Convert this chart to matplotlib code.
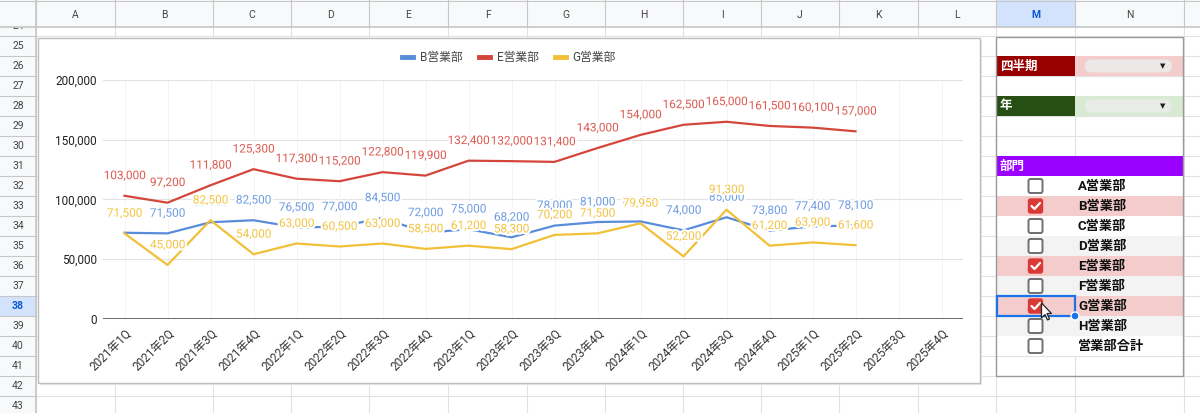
import matplotlib
matplotlib.use("Agg")
import matplotlib.pyplot as plt
import matplotlib.ticker as ticker
import matplotlib.patheffects as pe
from matplotlib.lines import Line2D
from matplotlib.patches import Rectangle, FancyBboxPatch, Circle, Polygon
from matplotlib.transforms import ScaledTranslation

plt.rcParams['font.family'] = ['Roboto', 'Noto Sans CJK JP', 'DejaVu Sans']

# chart data
quarters = ['2021年1Q', '2021年2Q', '2021年3Q', '2021年4Q',
            '2022年1Q', '2022年2Q', '2022年3Q', '2022年4Q',
            '2023年1Q', '2023年2Q', '2023年3Q', '2023年4Q',
            '2024年1Q', '2024年2Q', '2024年3Q', '2024年4Q',
            '2025年1Q', '2025年2Q', '2025年3Q', '2025年4Q']
b_sales = [72000, 71500, 80800, 82500, 76500, 77000, 84500, 72000, 75000,
           68200, 78000, 81000, 81500, 74000, 85000, 73800, 77400, 78100]
e_sales = [103000, 97200, 111800, 125300, 117300, 115200, 122800, 119900,
           132400, 132000, 131400, 143000, 154000, 162500, 165000, 161500,
           160100, 157000]
g_sales = [71500, 45000, 82500, 54000, 63000, 60500, 63000, 58500, 61200,
           58300, 70200, 71500, 79950, 52200, 91300, 61200, 63900, 61600]
series_names = ['B営業部', 'E営業部', 'G営業部']

# control panel data
departments = ['A営業部', 'B営業部', 'C営業部', 'D営業部', 'E営業部',
               'F営業部', 'G営業部', 'H営業部', '営業部合計']
checked = [False, True, False, False, True, False, True, False, False]

LINE_COLORS = ['#5a8cdc', '#d4463c', '#f2c037']
LABEL_COLORS = ['#6e9be2', '#dc5a51', '#f3c441']

W, H = 1200, 413
COL_EDGES = [36, 115, 213, 291, 369, 448, 527, 605, 683, 761, 839, 918, 996, 1075, 1184, 1260]
COL_NAMES = ['A', 'B', 'C', 'D', 'E', 'F', 'G', 'H', 'I', 'J', 'K', 'L', 'M', 'N', '']
HEADER_H = 27
ROW_H = 20
FIRST_ROW = 24
LAST_ROW = 43


def row_top(n):
    return 196 + (n - 33) * ROW_H


def draw_sheet(bg):
    # cell grid
    for x in COL_EDGES:
        bg.plot([x, x], [HEADER_H, H], color='#e2e2e2', lw=0.8, zorder=1)
    for n in range(FIRST_ROW, LAST_ROW + 2):
        y = row_top(n)
        bg.plot([0, W], [y, y], color='#e2e2e2', lw=0.8, zorder=1)

    # row header
    bg.add_patch(Rectangle((0, HEADER_H), COL_EDGES[0], H, fc='#f8f9fa', ec='none', zorder=2))
    for n in range(FIRST_ROW, LAST_ROW + 1):
        y = row_top(n)
        sel = n == 38
        if sel:
            bg.add_patch(Rectangle((0, y), COL_EDGES[0], ROW_H, fc='#d3e3fd', ec='none', zorder=2))
        bg.plot([0, COL_EDGES[0]], [y, y], color='#c7c7c7', lw=0.8, zorder=3)
        bg.text(18, y + ROW_H / 2, str(n), ha='center', va='center', fontsize=7.5,
                color='#0b57d0' if sel else '#444444', fontweight='bold' if sel else 'normal',
                zorder=3)
    bg.plot([COL_EDGES[0], COL_EDGES[0]], [0, H], color='#c4c7c5', lw=1.2, zorder=6)

    # column header
    bg.add_patch(Rectangle((0, 0), W, HEADER_H, fc='#f8f9fa', ec='none', zorder=5))
    for i, name in enumerate(COL_NAMES):
        x0, x1 = COL_EDGES[i], COL_EDGES[i + 1]
        sel = name == 'M'
        if sel:
            bg.add_patch(Rectangle((x0, 0), x1 - x0, HEADER_H, fc='#d3e3fd', ec='none', zorder=5))
        if name:
            bg.text((x0 + x1) / 2, HEADER_H / 2 + 1, name, ha='center', va='center',
                    fontsize=7.5, color='#0b57d0' if sel else '#444444',
                    fontweight='bold' if sel else 'normal', zorder=6)
        bg.plot([x0, x0], [0, HEADER_H], color='#c7c7c7', lw=0.8, zorder=6)
    bg.plot([0, W], [HEADER_H, HEADER_H], color='#c4c7c5', lw=1.2, zorder=6)
    bg.plot([0, W], [0.5, 0.5], color='#c7c7c7', lw=0.8, zorder=6)


def draw_panel(bg):
    m0, m1, n1 = COL_EDGES[12], COL_EDGES[13], COL_EDGES[14] - 1

    # period / year selectors
    selectors = [(26, '四半期', '#990000', '#f4cccc'), (28, '年', '#274e13', '#d9ead3')]
    for row, label, dark, light in selectors:
        y = row_top(row)
        bg.add_patch(Rectangle((m0, y), m1 - m0, ROW_H, fc=dark, ec='none', zorder=3))
        bg.add_patch(Rectangle((m1, y), n1 - m1, ROW_H, fc=light, ec='none', zorder=3))
        bg.text(m0 + 4, y + ROW_H / 2, label, ha='left', va='center', fontsize=9,
                fontweight='bold', color='white', zorder=4)
        bg.add_patch(FancyBboxPatch((m1 + 10, y + 3.5), n1 - m1 - 21, ROW_H - 7,
                                    boxstyle='round,pad=0,rounding_size=6.5',
                                    fc='#ececec', ec='none', alpha=0.85, zorder=4))
        bg.text(n1 - 20, y + ROW_H / 2, '▼', ha='center', va='center', fontsize=5,
                color='#222222', family=['DejaVu Sans'], zorder=5)

    # department header
    y = row_top(31)
    bg.add_patch(Rectangle((m0, y), n1 - m0, ROW_H, fc='#9900ff', ec='none', zorder=3))
    bg.text(m0 + 4, y + ROW_H / 2, '部門', ha='left', va='center', fontsize=9,
            fontweight='bold', color='white', zorder=4)

    # department check boxes
    cx = (m0 + m1) / 2
    for i, (dep, on) in enumerate(zip(departments, checked)):
        y = row_top(32 + i)
        if on:
            fill = '#f4cccc'
        elif i % 2 == 1:
            fill = '#f3f3f3'
        else:
            fill = 'white'
        bg.add_patch(Rectangle((m0, y), n1 - m0, ROW_H, fc=fill, ec='none', zorder=3))
        s = 14
        if on:
            bg.add_patch(FancyBboxPatch((cx - s / 2, y + 3), s, s,
                                        boxstyle='round,pad=0,rounding_size=2',
                                        fc='#d93a36', ec='#d93a36', lw=1, zorder=4))
            bg.plot([cx - 4, cx - 1, cx + 4.5], [y + 10, y + 13, y + 7], color='white',
                    lw=1.6, solid_capstyle='round', zorder=5)
        else:
            bg.add_patch(FancyBboxPatch((cx - s / 2, y + 3), s, s,
                                        boxstyle='round,pad=0,rounding_size=2',
                                        fc='white', ec='#6f6f6f', lw=1.4, zorder=4))
        bg.text(m1 + 3, y + ROW_H / 2 + 0.5, dep, ha='left', va='center', fontsize=9.5,
                fontweight='bold', color='#111111', zorder=4)

    # panel frame
    bg.add_patch(Rectangle((m0, 37), n1 - m0, row_top(42) - 37, fc='none', ec='#9a9a9a',
                           lw=1, zorder=6))

    # selected cell M38
    y = row_top(38)
    bg.add_patch(Rectangle((m0 + 1, y), m1 - m0 - 1, ROW_H, fc='none', ec='#1a73e8',
                           lw=1.6, zorder=7))
    bg.add_patch(Circle((m1, y + ROW_H), 4, fc='#1a73e8', ec='white', lw=1, zorder=8))

    # mouse pointer
    tip = (cx + 6, y + 7)
    pts = [(0, 0), (0, 15), (3.5, 11.5), (6, 17), (8, 16), (5.5, 10.5), (10, 10.5)]
    bg.add_patch(Polygon([(tip[0] + px, tip[1] + py) for px, py in pts], closed=True,
                         fc='white', ec='#222222', lw=0.9, zorder=9))


def plot_chart(fig):
    left, right, top, bottom = 103, 963, 80, 318.7
    ax = fig.add_axes([left / W, 1 - bottom / H, (right - left) / W, (bottom - top) / H],
                      zorder=1)
    ax.patch.set_alpha(0)

    all_series = [b_sales, e_sales, g_sales]
    for vals, col, name in zip(all_series, LINE_COLORS, series_names):
        ax.plot(range(len(vals)), vals, color=col, lw=1.6, label=name,
                solid_joinstyle='round', zorder=3)

    for vals, col in zip(all_series, LABEL_COLORS):
        for i, v in enumerate(vals):
            ax.annotate(f'{v:,}', (i, v), xytext=(0, 14.5), textcoords='offset points',
                        ha='center', va='center', fontsize=8.5, color=col, zorder=4,
                        annotation_clip=False,
                        path_effects=[pe.withStroke(linewidth=3, foreground='white')])

    ax.set_xlim(-0.5, len(quarters) - 0.5)
    ax.set_ylim(0, 200000)
    ax.set_yticks(range(0, 200001, 50000))
    ax.yaxis.set_major_formatter(ticker.StrMethodFormatter('{x:,.0f}'))
    ax.grid(axis='y', color='#e3e3e3', lw=0.8, zorder=0)
    ax.vlines(range(len(quarters)), 0, 200000, color='#f4f4f4', lw=0.7, zorder=0)
    ax.axhline(0, color='#5f5f5f', lw=1.3, zorder=2)
    for s in ax.spines.values():
        s.set_visible(False)
    ax.tick_params(length=0)
    ax.tick_params(axis='y', pad=4.5, labelsize=8.5, labelcolor='#222222')

    ax.set_xticks(range(len(quarters)))
    ax.set_xticklabels(quarters, rotation=45, ha='right', va='center',
                       rotation_mode='anchor', fontsize=8.5, color='#333333')
    ax.tick_params(axis='x', pad=9)
    shift = ScaledTranslation(5 / 100, 0, fig.dpi_scale_trans)
    for lbl in ax.get_xticklabels():
        lbl.set_transform(lbl.get_transform() + shift)

    handles = [Line2D([], [], color=c, lw=3.5) for c in LINE_COLORS]
    leg = fig.legend(handles, series_names, loc='center', bbox_to_anchor=(509 / W, 1 - 57.5 / H),
                     ncol=3, frameon=False, fontsize=8.5, handlelength=0.9,
                     handletextpad=0.6, columnspacing=1.4)
    for t in leg.get_texts():
        t.set_color('#444444')


fig = plt.figure(figsize=(12, 4.13), dpi=100)
bg = fig.add_axes([0, 0, 1, 1], zorder=0)
bg.set_xlim(0, W)
bg.set_ylim(H, 0)
bg.axis('off')

draw_sheet(bg)

# chart frame
bg.add_patch(Rectangle((39.5, 39.5), 942, 345, fc='#e9e9e9', ec='none', zorder=4))
bg.add_patch(Rectangle((38, 38), 942, 345, fc='white', ec='#bdbdbd', lw=1, zorder=4))

draw_panel(bg)
plot_chart(fig)

fig.savefig('out.png', dpi=100)
plt.close(fig)
